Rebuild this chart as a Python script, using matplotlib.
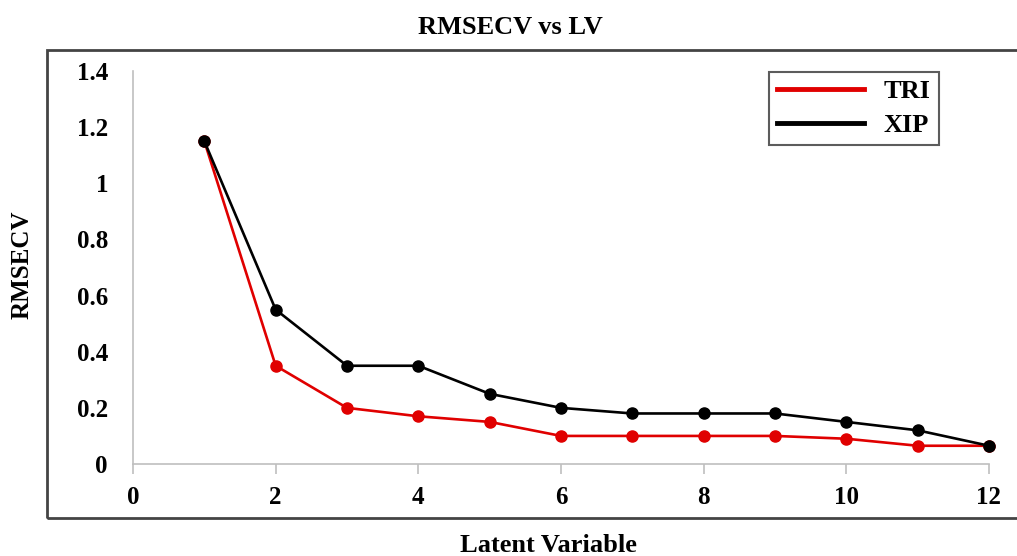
import matplotlib
matplotlib.use("Agg")
import matplotlib.pyplot as plt
from matplotlib.patches import Rectangle

lv = [1, 2, 3, 4, 5, 6, 7, 8, 9, 10, 11, 12]
tri = [1.15, 0.35, 0.20, 0.17, 0.15, 0.10, 0.10, 0.10, 0.10, 0.09, 0.065, 0.065]
xip = [1.15, 0.55, 0.35, 0.35, 0.25, 0.20, 0.18, 0.18, 0.18, 0.15, 0.12, 0.065]
xticks = [0, 2, 4, 6, 8, 10, 12]
yticks = [0, 0.2, 0.4, 0.6, 0.8, 1.0, 1.2, 1.4]
ytick_labels = ["0", "0.2", "0.4", "0.6", "0.8", "1", "1.2", "1.4"]

plt.rcParams['font.family'] = ['Liberation Serif', 'DejaVu Serif']
plt.rcParams['font.weight'] = 'bold'

W, H = 1017, 556
fig = plt.figure(figsize=(W / 100, H / 100), dpi=100)
ax = fig.add_axes([133 / W, 1 - 464 / H, 856 / W, 393 / H])

ax.plot(lv, tri, color='#e00000', lw=1.9, marker='o', ms=8, label='TRI', zorder=3)
ax.plot(lv, xip, color='black', lw=1.9, marker='o', ms=8, label='XIP', zorder=4)

ax.set_xlim(0, 12)
ax.set_ylim(0, 1.4)
ax.set_xticks(xticks)
ax.set_xticklabels([str(t) for t in xticks])
ax.set_yticks(yticks)
ax.set_yticklabels(ytick_labels)
for s in ['top', 'right']:
    ax.spines[s].set_visible(False)
for s in ['left', 'bottom']:
    ax.spines[s].set_color('#bfbfbf')
    ax.spines[s].set_linewidth(1.2)
ax.tick_params(axis='x', direction='out', length=7, color='#bfbfbf', width=1.2,
               labelsize=18, pad=9)
ax.tick_params(axis='y', length=0, labelsize=18, pad=18)
for lab in ax.get_xticklabels() + ax.get_yticklabels():
    lab.set_fontweight('bold')
for line in ax.lines:
    line.set_clip_on(False)

leg = ax.legend(handles=[ax.lines[0], ax.lines[1]], loc='upper left',
                bbox_to_anchor=((769 - 133) / 856, (464 - 72) / 393),
                prop={'family': 'Liberation Serif', 'weight': 'bold', 'size': 19},
                frameon=True, fancybox=False, edgecolor='#333333',
                handlelength=3.3, handletextpad=0.75, borderpad=0.3,
                labelspacing=0.4, borderaxespad=0)
leg.get_frame().set_linewidth(1.5)
for h in leg.legend_handles:
    h.set_marker('')
    h.set_linewidth(3.5)

fig.text(510 / W, 1 - 27 / H, 'RMSECV vs LV', ha='center', va='center',
         fontsize=19, fontweight='bold')
fig.text(548 / W, 1 - 545 / H, 'Latent Variable', ha='center', va='center',
         fontsize=19, fontweight='bold')
fig.text(22 / W, 1 - 265 / H, 'RMSECV', ha='center', va='center', rotation=90,
         fontsize=18, fontweight='bold')

fig.patches.append(Rectangle((47 / W, 1 - 518 / H), (W + 10 - 47) / W, (518 - 50) / H,
                             transform=fig.transFigure, fill=False,
                             edgecolor='#444444', linewidth=2, clip_on=False))

fig.savefig('out.png', dpi=100)
